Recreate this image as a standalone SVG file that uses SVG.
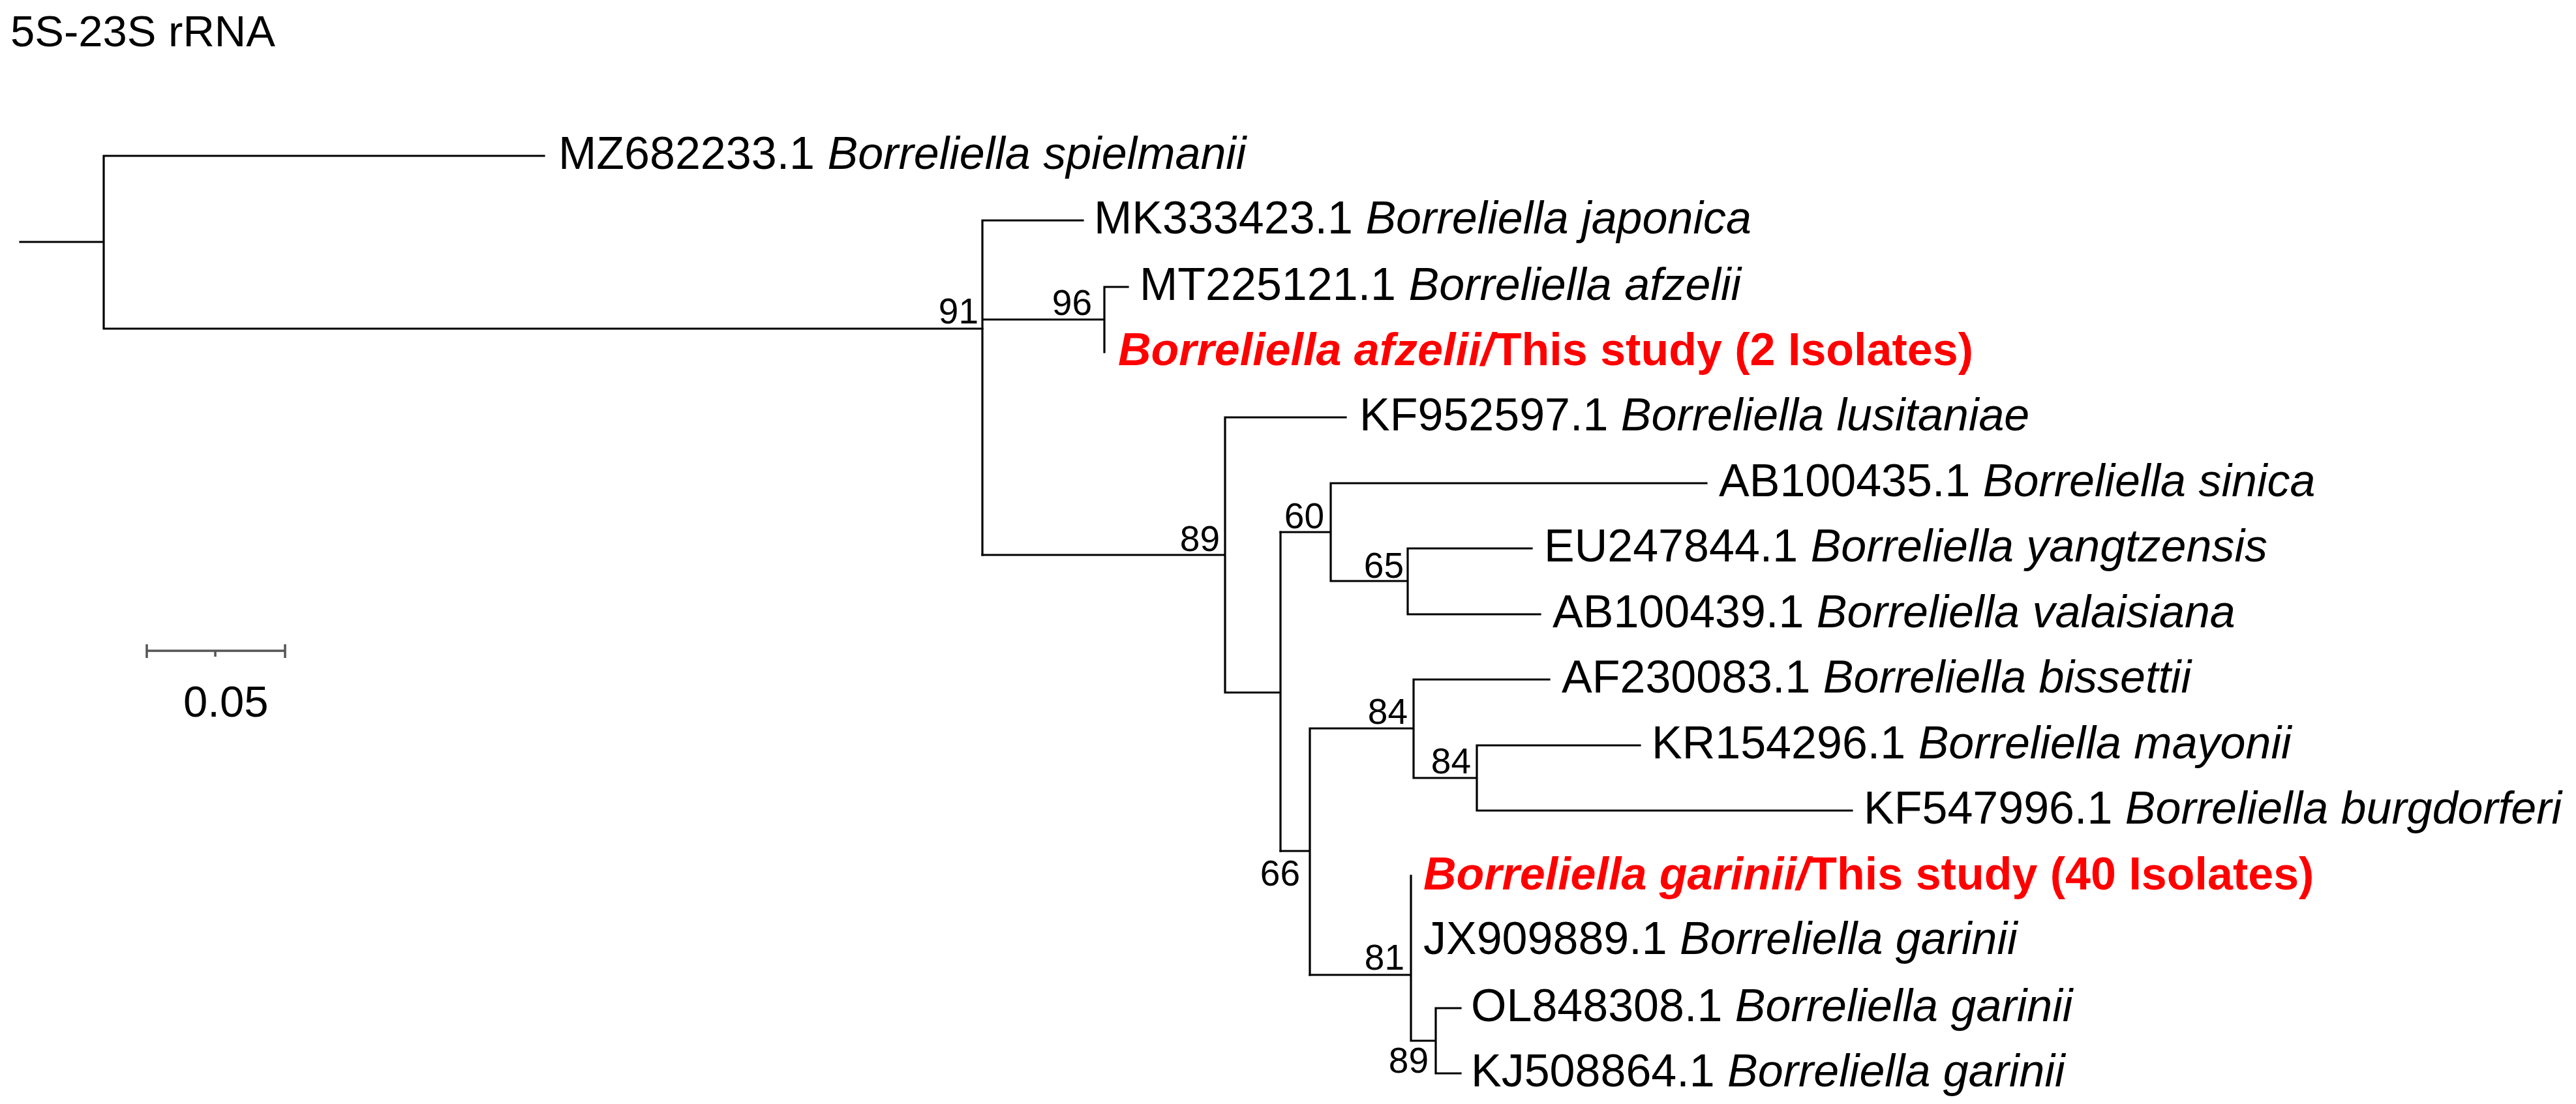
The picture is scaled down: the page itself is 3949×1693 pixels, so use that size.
<svg xmlns="http://www.w3.org/2000/svg" width="3949" height="1693" viewBox="0 0 3949 1693">
<style>
text{font-family:"Liberation Sans",Arial,Helvetica,sans-serif;fill:#000}
.leaf{font-size:70px}
.sp{font-style:italic}
.hl{fill:#ff0000;font-weight:bold}
.bs{font-size:55px;text-anchor:end}
.br{fill:none;stroke:#000;stroke-width:3.2;stroke-linecap:square}
.sb{fill:none;stroke:#555;stroke-width:3.5}
</style>
<rect width="3949" height="1693" fill="#fff"/>
<text id="title" x="16" y="71" font-size="67">5S-23S rRNA</text>
<g id="connectors" class="br">
<path d="M31 371H159M159 239V504M159 239H834M159 504H1506"/>
<path d="M1506 338V851M1506 338H1660M1506 490H1693M1693 440V540M1693 440H1729"/>
<path d="M1506 851H1878M1878 640V1062M1878 640H2063M1878 1062H1963M1963 816V1305"/>
<path d="M1963 816H2040M2040 741V891M2040 741H2616M2040 891H2158M2158 841V942M2158 841H2348M2158 942H2361"/>
<path d="M1963 1305H2008M2008 1117V1495M2008 1117H2167M2167 1042V1193M2167 1042H2375M2167 1193H2264M2264 1143V1243M2264 1143H2514M2264 1243H2839"/>
<path d="M2008 1495H2163M2163 1343V1596M2163 1596H2201M2201 1546V1646M2201 1546H2239M2201 1646H2239"/>
</g>
<g id="leaf-MZ682233" class="leaf"><text x="856" y="259">MZ682233.1 <tspan class="sp">Borreliella spielmanii</tspan></text></g>
<g id="leaf-MK333423" class="leaf"><text x="1677" y="358">MK333423.1 <tspan class="sp">Borreliella japonica</tspan></text></g>
<g id="leaf-MT225121" class="leaf"><text x="1747" y="460">MT225121.1 <tspan class="sp">Borreliella afzelii</tspan></text></g>
<g id="leaf-afzelii-study" class="leaf"><text class="hl" x="1714" y="560"><tspan class="sp">Borreliella afzelii/</tspan>This study (2 Isolates)</text></g>
<g id="leaf-KF952597" class="leaf"><text x="2084" y="660">KF952597.1 <tspan class="sp">Borreliella lusitaniae</tspan></text></g>
<g id="leaf-AB100435" class="leaf"><text x="2635" y="761">AB100435.1 <tspan class="sp">Borreliella sinica</tspan></text></g>
<g id="leaf-EU247844" class="leaf"><text x="2367" y="861">EU247844.1 <tspan class="sp">Borreliella yangtzensis</tspan></text></g>
<g id="leaf-AB100439" class="leaf"><text x="2380" y="962">AB100439.1 <tspan class="sp">Borreliella valaisiana</tspan></text></g>
<g id="leaf-AF230083" class="leaf"><text x="2394" y="1062">AF230083.1 <tspan class="sp">Borreliella bissettii</tspan></text></g>
<g id="leaf-KR154296" class="leaf"><text x="2532" y="1163">KR154296.1 <tspan class="sp">Borreliella mayonii</tspan></text></g>
<g id="leaf-KF547996" class="leaf"><text x="2857" y="1263">KF547996.1 <tspan class="sp">Borreliella burgdorferi</tspan></text></g>
<g id="leaf-garinii-study" class="leaf"><text class="hl" x="2182" y="1364"><tspan class="sp">Borreliella garinii/</tspan>This study (40 Isolates)</text></g>
<g id="leaf-JX909889" class="leaf"><text x="2182" y="1463">JX909889.1 <tspan class="sp">Borreliella garinii</tspan></text></g>
<g id="leaf-OL848308" class="leaf"><text x="2255" y="1566">OL848308.1 <tspan class="sp">Borreliella garinii</tspan></text></g>
<g id="leaf-KJ508864" class="leaf"><text x="2255" y="1666">KJ508864.1 <tspan class="sp">Borreliella garinii</tspan></text></g>
<g id="bootstrap">
<g id="node-91"><text class="bs" x="1500" y="496">91</text></g>
<g id="node-96"><text class="bs" x="1674" y="483">96</text></g>
<g id="node-89a"><text class="bs" x="1870" y="845">89</text></g>
<g id="node-60"><text class="bs" x="2030" y="810">60</text></g>
<g id="node-65"><text class="bs" x="2152" y="886">65</text></g>
<g id="node-84a"><text class="bs" x="2158" y="1110">84</text></g>
<g id="node-84b"><text class="bs" x="2255" y="1186">84</text></g>
<g id="node-66"><text class="bs" x="1993" y="1358">66</text></g>
<g id="node-81"><text class="bs" x="2153" y="1487">81</text></g>
<g id="node-89b"><text class="bs" x="2190" y="1645">89</text></g>
</g>
<g id="scale-bar">
<path class="sb" d="M225 998H437M225 988V1009M437 988V1009M330 998V1007"/>
<text x="281" y="1099" font-size="67">0.05</text>
</g>
</svg>
